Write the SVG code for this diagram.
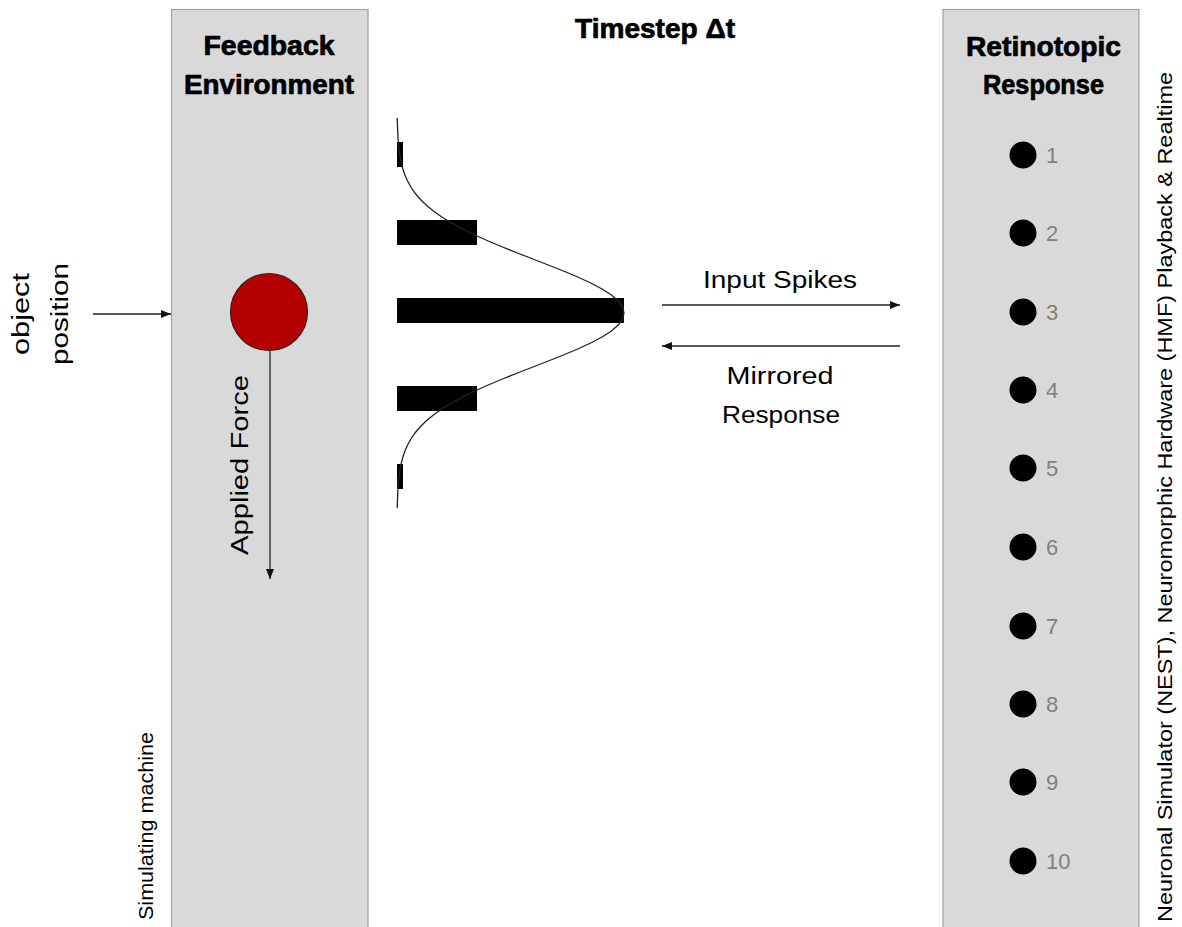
<svg xmlns="http://www.w3.org/2000/svg" width="1182" height="927" viewBox="0 0 1182 927">
  <style>
    .panel { fill: #d9d9d9; stroke: #a0a0a0; stroke-width: 1.2; }
    .title { font-family: "Liberation Sans", Arial, sans-serif; font-weight: bold; font-size: 27px; fill: #000; stroke: #000; stroke-width: 0.7; text-anchor: middle; }
    .label { font-family: "Liberation Sans", Arial, sans-serif; font-size: 23px; fill: #000; }
    .small { font-family: "Liberation Sans", Arial, sans-serif; font-size: 20px; fill: #000; }
    .num { font-family: "Liberation Sans", Arial, sans-serif; font-size: 22px; fill: #808080; }
    .wire { stroke: #222; stroke-width: 1.3; fill: none; }
    .bar { fill: #000; }
    .dot { fill: #000; }
  </style>
  <defs>
    <marker id="arrow" viewBox="0 0 10 8" refX="10" refY="4" markerWidth="10" markerHeight="8" markerUnits="userSpaceOnUse" orient="auto">
      <path d="M0,0 L10,4 L0,8 z" fill="#111"/>
    </marker>
  </defs>

  <rect width="1182" height="927" fill="#fff"/>

  <!-- Feedback environment column -->
  <g id="feedback-environment">
    <rect class="panel" x="171.5" y="9.5" width="196.5" height="940"/>
    <text class="title" x="269" y="55" textLength="131" lengthAdjust="spacingAndGlyphs">Feedback</text>
    <text class="title" x="269" y="94" textLength="170" lengthAdjust="spacingAndGlyphs">Environment</text>
  </g>

  <!-- Simulated object -->
  <g id="object">
    <circle cx="269" cy="312" r="38.5" fill="#b30000" stroke="#3a1a1a" stroke-width="1.2"/>
  </g>

  <!-- Timestep heading -->
  <g id="timestep">
    <text class="title" x="655" y="38" textLength="160" lengthAdjust="spacingAndGlyphs">Timestep Δt</text>
  </g>

  <!-- Gaussian receptive field encoding -->
  <g id="gaussian-encoding">
    <rect class="bar" x="397" y="142" width="6" height="25"/>
    <rect class="bar" x="397" y="220" width="80" height="25"/>
    <rect class="bar" x="397" y="298" width="227" height="25"/>
    <rect class="bar" x="397" y="386" width="80" height="25"/>
    <rect class="bar" x="397" y="464" width="6" height="25"/>
    <polyline class="wire" stroke-width="1.1" points="397.2,118 397.3,121 397.5,127 397.8,133 398.1,139 398.6,145 399.2,151 400.1,157 401.3,163 402.9,169 404.9,175 407.6,181 410.9,187 415,193 420,199 426.1,205 433.4,211 441.8,217 451.6,223 462.6,229 474.8,235 488.2,241 502.5,247 517.5,253 532.9,259 548.3,265 563.4,271 577.7,277 590.7,283 602.1,289 611.4,295 618.3,301 622.6,307 624,313 622.6,319 618.3,325 611.4,331 602.1,337 590.7,343 577.7,349 563.4,355 548.3,361 532.9,367 517.5,373 502.5,379 488.2,385 474.8,391 462.6,397 451.6,403 441.8,409 433.4,415 426.1,421 420,427 415,433 410.9,439 407.6,445 404.9,451 402.9,457 401.3,463 400.1,469 399.2,475 398.6,481 398.1,487 397.8,493 397.5,499 397.3,505 397.2,508"/>
  </g>

  <!-- Retinotopic response column -->
  <g id="retinotopic-response">
    <rect class="panel" x="943" y="9.5" width="196" height="940"/>
    <text class="title" x="1043.5" y="56" textLength="155" lengthAdjust="spacingAndGlyphs">Retinotopic</text>
    <text class="title" x="1043.5" y="94" textLength="121" lengthAdjust="spacingAndGlyphs">Response</text>
  </g>

  <!-- Retinotopic neurons -->
  <g id="neuron-1"><circle class="dot" cx="1023" cy="155" r="13.5"/><text class="num" x="1046" y="163">1</text></g>
  <g id="neuron-2"><circle class="dot" cx="1023" cy="233" r="13.5"/><text class="num" x="1046" y="241">2</text></g>
  <g id="neuron-3"><circle class="dot" cx="1023" cy="312" r="13.5"/><text class="num" x="1046" y="320">3</text></g>
  <g id="neuron-4"><circle class="dot" cx="1023" cy="390" r="13.5"/><text class="num" x="1046" y="398">4</text></g>
  <g id="neuron-5"><circle class="dot" cx="1023" cy="468" r="13.5"/><text class="num" x="1046" y="476">5</text></g>
  <g id="neuron-6"><circle class="dot" cx="1023" cy="547" r="13.5"/><text class="num" x="1046" y="555">6</text></g>
  <g id="neuron-7"><circle class="dot" cx="1023" cy="626" r="13.5"/><text class="num" x="1046" y="634">7</text></g>
  <g id="neuron-8"><circle class="dot" cx="1023" cy="704" r="13.5"/><text class="num" x="1046" y="712">8</text></g>
  <g id="neuron-9"><circle class="dot" cx="1023" cy="782" r="13.5"/><text class="num" x="1046" y="790">9</text></g>
  <g id="neuron-10"><circle class="dot" cx="1023" cy="861" r="13.5"/><text class="num" x="1046" y="869">10</text></g>

  <!-- Connectors -->
  <g id="connectors">
    <line class="wire" x1="93" y1="314" x2="171" y2="314" marker-end="url(#arrow)"/>
    <line class="wire" x1="270" y1="351" x2="270" y2="579" marker-end="url(#arrow)"/>
    <line class="wire" x1="662" y1="305" x2="900" y2="305" marker-end="url(#arrow)"/>
    <line class="wire" x1="900" y1="346" x2="662" y2="346" marker-end="url(#arrow)"/>
  </g>

  <!-- Connector labels -->
  <g id="labels">
    <text class="label" x="780" y="288" text-anchor="middle" textLength="154" lengthAdjust="spacingAndGlyphs">Input Spikes</text>
    <text class="label" x="780" y="384" text-anchor="middle" textLength="107" lengthAdjust="spacingAndGlyphs">Mirrored</text>
    <text class="label" x="781" y="423" text-anchor="middle" textLength="118" lengthAdjust="spacingAndGlyphs">Response</text>
    <g transform="translate(29,314) rotate(-90)">
      <text class="label" font-size="26" x="0" y="0" text-anchor="middle" textLength="82" lengthAdjust="spacingAndGlyphs">object</text>
    </g>
    <g transform="translate(68,314) rotate(-90)">
      <text class="label" font-size="26" x="0" y="0" text-anchor="middle" textLength="102" lengthAdjust="spacingAndGlyphs">position</text>
    </g>
    <g transform="translate(248,465) rotate(-90)">
      <text class="label" font-size="27" x="0" y="0" text-anchor="middle" textLength="180" lengthAdjust="spacingAndGlyphs">Applied Force</text>
    </g>
    <g transform="translate(153,920) rotate(-90)">
      <text class="small" font-size="21" x="0" y="0" textLength="188" lengthAdjust="spacingAndGlyphs">Simulating machine</text>
    </g>
    <g transform="translate(1172,922) rotate(-90)">
      <text class="small" x="0" y="0" textLength="850" lengthAdjust="spacingAndGlyphs">Neuronal Simulator (NEST), Neuromorphic Hardware (HMF) Playback &amp; Realtime</text>
    </g>
  </g>
</svg>
